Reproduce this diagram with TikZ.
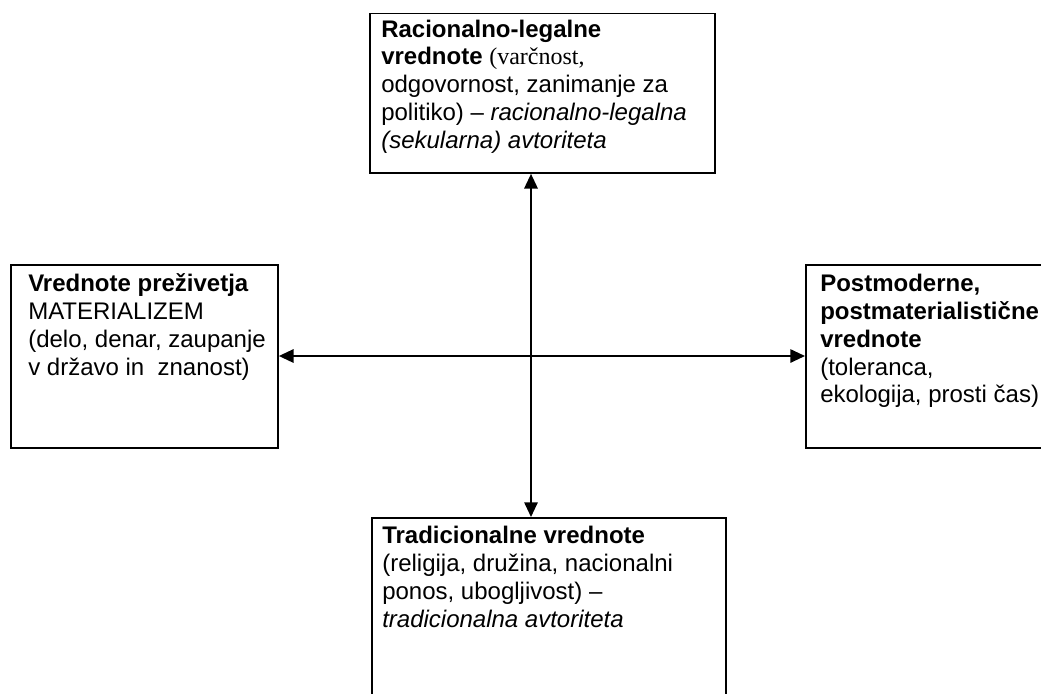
\documentclass[tikz,border=0pt]{standalone}
\usepackage{fontspec}
\setmainfont{Liberation Sans}
\newfontfamily\tnr{Liberation Serif}
\usetikzlibrary{arrows.meta}
\begin{document}
\begin{tikzpicture}[x=0.75pt,y=-0.75pt,
  box/.style={draw, line width=1.4pt, inner sep=0pt, anchor=north west},
  txt/.style={anchor=base west, align=left, inner sep=0pt, font=\fontsize{18}{20.8}\selectfont},
  link/.style={line width=1.4pt, {Triangle[width=10pt,length=11pt]}-{Triangle[width=10pt,length=11pt]}}]
\useasboundingbox (0,0) rectangle (1041,693);
% boxes
\node[box, minimum width=258.75pt, minimum height=119.6pt] (top) at (369,12.5) {};
\node[box, minimum width=200.25pt, minimum height=137.25pt] (left) at (10,264) {};
\node[box, minimum width=198.75pt, minimum height=137.25pt] (right) at (805,264) {};
\node[box, minimum width=265.5pt, minimum height=152.25pt] (bottom) at (371,517) {};
% texts (anchored at the baseline of their last line)
\node[txt] (toptext) at (381,148.1) {\textbf{Racionalno-legalne}\\
\textbf{vrednote} {\tnr (varčnost,}\\
odgovornost, zanimanje za\\
politiko) – \textit{racionalno-legalna}\\
\textit{(sekularna) avtoriteta}};
\node[txt] (lefttext) at (28,375.1) {\textbf{Vrednote preživetja}\\
MATERIALIZEM\\
(delo, denar, zaupanje\\
v državo in~~znanost)};
\node[txt] (righttext) at (820,402.8) {\textbf{Postmoderne,}\\
\textbf{postmaterialistične}\\
\textbf{vrednote}\\
(toleranca,\\
ekologija, prosti čas)};
\node[txt] (bottomtext) at (382,627.1) {\textbf{Tradicionalne vrednote}\\
(religija, družina, nacionalni\\
ponos, ubogljivost) –\\
\textit{tradicionalna avtoriteta}};
% axes
\coordinate (c) at (531,356);
\draw[link] (top.south -| c) -- (bottom.north -| c);
\draw[link] (left.east |- c) -- (right.west |- c);
\end{tikzpicture}
\end{document}
